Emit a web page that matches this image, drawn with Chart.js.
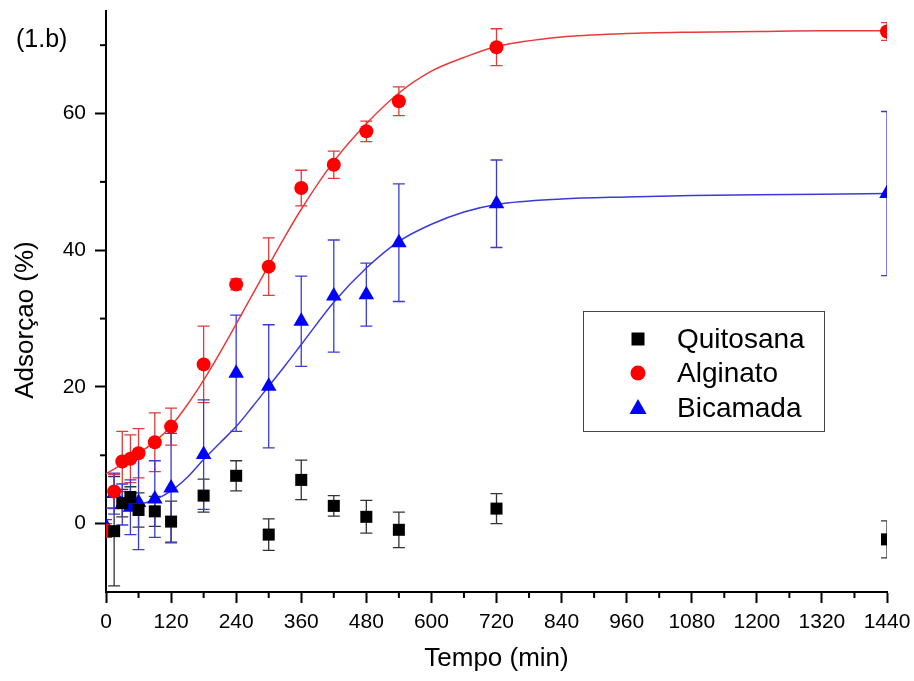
<!DOCTYPE html>
<html>
<head>
<meta charset="utf-8">
<script src="https://cdn.jsdelivr.net/npm/chart.js@4.4.1/dist/chart.umd.min.js"></script>
<style>
  html, body { margin: 0; padding: 0; background: #fff; }
</style>
</head>
<body>
<canvas id="adsorcao" width="914" height="681"></canvas>
<script>
// tempos de coleta (min)
var tempos = [0, 15, 30, 45, 60, 90, 120, 180, 240, 300, 360, 420, 480, 540, 720, 1440];

// adsorção (%) e desvio de cada amostra
var quitosana    = [null, -1.1, 3.0, 3.9, 2.0, 1.8, 0.3, 4.1, 7.0, -1.6, 6.4, 2.6, 1.0, -0.9, 2.2, -2.3];
var quitosanaErr = [null, 8.0, 2.0, 1.5, 2.5, 2.2, 3.0, 2.4, 2.2, 2.3, 2.9, 1.5, 2.4, 2.6, 2.2, 2.7];
var alginato     = [-1.0, 4.7, 9.1, 9.5, 10.3, 11.9, 14.2, 23.3, 35.0, 37.6, 49.1, 52.5, 57.4, 61.8, 69.7, 72.0];
var alginatoErr  = [1.0, 2.5, 4.4, 3.5, 3.6, 4.3, 2.7, 5.6, 0.8, 4.2, 2.6, 2.0, 1.5, 2.1, 2.7, 1.3];
var bicamada     = [-0.4, 4.4, 2.8, 2.4, 3.1, 3.6, 5.2, 10.1, 22.0, 20.1, 29.6, 33.3, 33.5, 41.1, 46.8, 48.3];
var bicamadaErr  = [1.0, 3.0, 3.0, 4.0, 6.9, 5.6, 8.0, 8.0, 8.5, 9.0, 6.6, 8.2, 4.6, 8.6, 6.4, 12.0];

// curvas ajustadas
var ajusteT        = [0, 30, 60, 90, 120, 150, 180, 210, 240, 270, 300, 330, 360, 420, 480, 540, 600, 660, 720, 840, 960, 1080, 1200, 1320, 1440];
var alginatoAjuste = [7.3, 8.7, 10.3, 12.0, 14.3, 17.4, 21.0, 25.0, 29.2, 33.5, 37.8, 42.0, 46.0, 53.0, 58.5, 63.0, 66.2, 68.2, 69.8, 71.2, 71.7, 71.9, 72.0, 72.1, 72.1];
var bicamadaAjuste = [2.3, 2.3, 2.8, 3.5, 4.8, 6.8, 9.4, 11.8, 14.2, 17.1, 20.1, 23.1, 26.2, 32.4, 37.4, 41.3, 43.8, 45.6, 46.7, 47.5, 47.8, 48.0, 48.1, 48.2, 48.3];

var xTicks = [0, 120, 240, 360, 480, 600, 720, 840, 960, 1080, 1200, 1320, 1440];
var yTicks = [0, 20, 40, 60];
var xMinor = [60, 180, 300, 420, 540, 660, 780, 900, 1020, 1140, 1260, 1380];
var yMinor = [10, 30, 50, 70];

var FONT = '"Liberation Sans", Arial, sans-serif';
Chart.defaults.font.family = FONT;
Chart.defaults.color = '#000';

function pontos(ys) {
    return tempos.map(function (t, i) { return {x: t, y: ys[i]}; });
}
function curva(ys) {
    return ajusteT.map(function (t, i) { return {x: t, y: ys[i]}; });
}

// barras de erro
const errorBars = {
    id: 'errorBars',
    beforeDatasetsDraw(chart) {
        const {ctx, chartArea, scales: {x, y}} = chart;
        ctx.save();
        ctx.beginPath();
        ctx.rect(chartArea.left, chartArea.top, chartArea.width, chartArea.height);
        ctx.clip();
        chart.data.datasets.forEach(function (ds) {
            if (!ds.errors) return;
            ctx.strokeStyle = ds.errorColor;
            ctx.lineWidth = 1.3;
            ds.data.forEach(function (p, i) {
                const e = ds.errors[i];
                if (p.y == null || e == null) return;
                const px = x.getPixelForValue(p.x);
                const top = y.getPixelForValue(p.y + e);
                const bot = y.getPixelForValue(p.y - e);
                ctx.beginPath();
                ctx.moveTo(px, top); ctx.lineTo(px, bot);
                ctx.moveTo(px - 6, top); ctx.lineTo(px + 6, top);
                ctx.moveTo(px - 6, bot); ctx.lineTo(px + 6, bot);
                ctx.stroke();
            });
        });
        ctx.restore();
    }
};

function marcador(ctx, estilo, cx, cy, cor) {
    ctx.fillStyle = cor;
    ctx.beginPath();
    if (estilo === 'rect') {
        ctx.rect(cx - 6.5, cy - 6.5, 13, 13);
    } else if (estilo === 'circle') {
        ctx.arc(cx, cy, 7.5, 0, Math.PI * 2);
    } else {
        ctx.moveTo(cx, cy - 9);
        ctx.lineTo(cx + 8.5, cy + 6);
        ctx.lineTo(cx - 8.5, cy + 6);
        ctx.closePath();
    }
    ctx.fill();
}

// ticks menores, legenda, rotulos
const extras = {
    id: 'extras',
    afterDraw(chart) {
        const {ctx, chartArea, scales: {x, y}} = chart;
        ctx.save();
        ctx.strokeStyle = '#000';
        ctx.lineWidth = 2;
        xMinor.forEach(function (v) {
            const px = x.getPixelForValue(v);
            ctx.beginPath(); ctx.moveTo(px, chartArea.bottom); ctx.lineTo(px, chartArea.bottom + 6); ctx.stroke();
        });
        yMinor.forEach(function (v) {
            const py = y.getPixelForValue(v);
            ctx.beginPath(); ctx.moveTo(chartArea.left, py); ctx.lineTo(chartArea.left - 6, py); ctx.stroke();
        });

        // legenda
        ctx.lineWidth = 1;
        ctx.strokeStyle = '#444';
        ctx.strokeRect(583.5, 311.5, 241, 120);
        ctx.font = '28px ' + FONT;
        ctx.textBaseline = 'middle';
        ctx.textAlign = 'left';
        var rows = [339, 373, 408];
        chart.data.datasets.filter(function (d) { return d.errors; }).forEach(function (ds, i) {
            marcador(ctx, ds.pointStyle, 638, rows[i], ds.backgroundColor);
            ctx.fillStyle = '#000';
            ctx.fillText(ds.label, 677, rows[i] + 1);
        });

        // titulo do eixo y e rotulo do painel
        ctx.font = '26px ' + FONT;
        ctx.textAlign = 'center';
        ctx.save();
        ctx.translate(26, 320);
        ctx.rotate(-Math.PI / 2);
        ctx.fillText('Adsorçao (%)', 0, 0);
        ctx.restore();
        ctx.textAlign = 'left';
        ctx.font = '25px ' + FONT;
        ctx.fillText('(1.b)', 16, 40);
        ctx.restore();
    }
};

const ctx = document.getElementById('adsorcao').getContext('2d');
const grafico = new Chart(ctx, {
    type: 'scatter',
    data: {
        datasets: [
            {
                label: 'Quitosana', data: pontos(quitosana), errors: quitosanaErr, errorColor: '#333',
                pointStyle: 'rect', pointRadius: 8.5, backgroundColor: '#000', borderColor: '#000', borderWidth: 0, order: 0
            },
            {
                label: 'Alginato', data: pontos(alginato), errors: alginatoErr, errorColor: '#e03a3a',
                pointStyle: 'circle', pointRadius: 7, backgroundColor: '#ff0000', borderColor: '#ff0000', borderWidth: 0, order: 0
            },
            {
                label: 'Bicamada', data: pontos(bicamada), errors: bicamadaErr, errorColor: '#3a3ad8',
                pointStyle: 'triangle', pointRadius: 9, backgroundColor: '#0000ff', borderColor: '#0000ff', borderWidth: 0, order: 0
            },
            {
                label: 'ajuste alginato', data: curva(alginatoAjuste), showLine: true, pointRadius: 0,
                borderColor: '#e83a3a', borderWidth: 1.5, cubicInterpolationMode: 'monotone', order: 1
            },
            {
                label: 'ajuste bicamada', data: curva(bicamadaAjuste), showLine: true, pointRadius: 0,
                borderColor: '#3a3ad8', borderWidth: 1.5, cubicInterpolationMode: 'monotone', order: 1
            }
        ]
    },
    options: {
        responsive: false,
        animation: false,
        layout: {padding: {top: 11, right: 27, left: 0, bottom: 0}},
        plugins: {legend: {display: false}, tooltip: {enabled: false}},
        scales: {
            x: {
                type: 'linear', min: 0, max: 1440,
                afterBuildTicks: function (scale) { scale.ticks = xTicks.map(function (v) { return {value: v}; }); },
                afterFit: function (scale) {
                    scale.height = 89;
                    scale.paddingLeft = 0; scale.paddingRight = 0;
                },
                grid: {drawOnChartArea: false, drawTicks: true, tickLength: 11, tickColor: '#000', tickWidth: 2},
                border: {display: true, color: '#000', width: 2},
                ticks: {font: {size: 21}, padding: 7, maxRotation: 0, autoSkip: false,
                        callback: function (v) { return String(v); }},
                title: {display: true, text: 'Tempo (min)', font: {size: 26}, padding: {top: 0, bottom: 7}}
            },
            y: {
                type: 'linear', min: -10, max: 75,
                afterBuildTicks: function (scale) { scale.ticks = yTicks.map(function (v) { return {value: v}; }); },
                afterFit: function (scale) {
                    scale.width = 106;
                    scale.paddingTop = 0; scale.paddingBottom = 0;
                },
                grid: {drawOnChartArea: false, drawTicks: true, tickLength: 11, tickColor: '#000', tickWidth: 2},
                border: {display: true, color: '#000', width: 2},
                ticks: {font: {size: 21}, padding: 9}
            }
        }
    },
    plugins: [errorBars, extras]
});
</script>
</body>
</html>
